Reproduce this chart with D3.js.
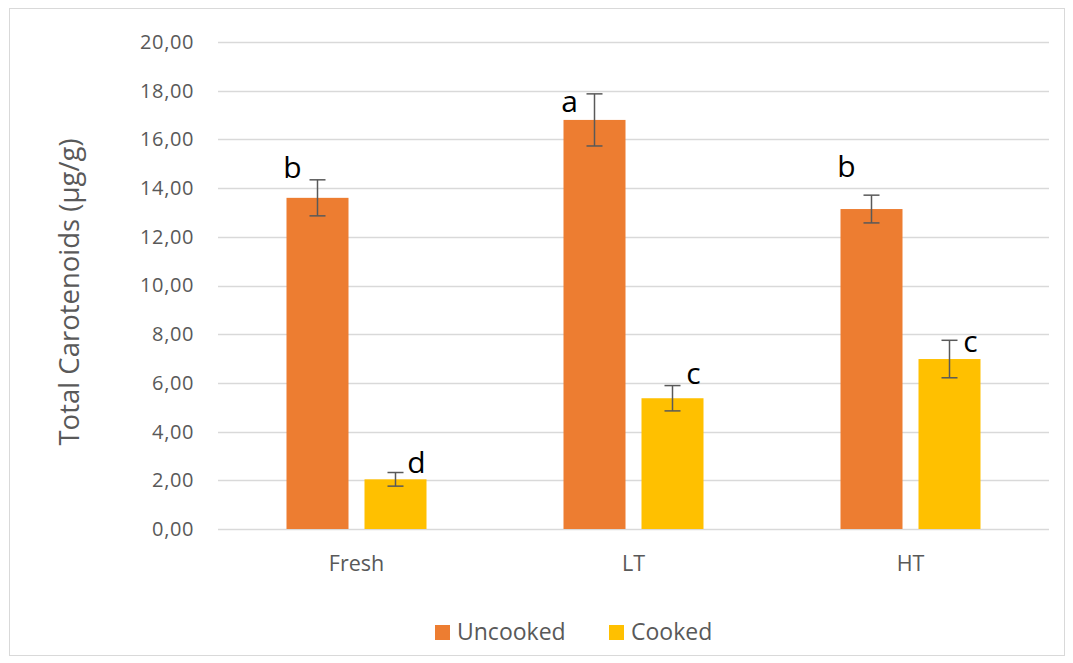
<!DOCTYPE html>
<html><head><meta charset="utf-8">
<script src="https://cdn.jsdelivr.net/npm/d3@7"></script>
<style>body{margin:0;background:#fff}svg{display:block}text{font-family:"Open Sans",sans-serif}</style>
</head><body>
<script>
const categories = ["Fresh", "LT", "HT"];
const seriesNames = ["Uncooked", "Cooked"];
const uncooked = [13.60, 16.80, 13.14];
const cooked = [2.04, 5.37, 6.98];
const uncookedErr = [0.74, 1.07, 0.57];
const cookedErr = [0.28, 0.52, 0.77];
const uncookedLetters = ["b", "a", "b"];
const cookedLetters = ["d", "c", "c"];
const uncookedLetterY = [14.42, 17.13, 14.46];
const cookedLetterY = [2.30, 5.96, 7.28];
const yTicks = [0, 2, 4, 6, 8, 10, 12, 14, 16, 18, 20];
const colors = ["#ED7D31", "#FFC000"];

const W = 1073, H = 663;
const svg = d3.select("body").append("svg").attr("width", W).attr("height", H);
svg.append("rect").attr("x", 9.5).attr("y", 8.5).attr("width", 1055).attr("height", 647)
  .attr("fill", "#fff").attr("stroke", "#D9D9D9");

const m = {left: 218, right: 1049, top: 42, bottom: 529};
const x = d3.scaleBand().domain(categories).range([m.left, m.right]).paddingInner(0).paddingOuter(0);
const y = d3.scaleLinear().domain([0, 20]).range([m.bottom, m.top]);
const barW = 62, gap = 16;

// grid
svg.append("g").selectAll("line").data(yTicks).join("line")
  .attr("x1", m.left).attr("x2", m.right)
  .attr("y1", d => Math.round(y(d)) + 0.5).attr("y2", d => Math.round(y(d)) + 0.5)
  .attr("stroke", "#D9D9D9").attr("stroke-width", 1.3);

// y axis labels
const yAxis = d3.axisLeft(y).tickValues(yTicks).tickSize(0).tickPadding(0)
  .tickFormat(d => d3.format(".2f")(d).replace(".", ","));
const ga = svg.append("g").attr("transform", `translate(194,0)`).call(yAxis);
ga.select(".domain").remove();
ga.selectAll("text").attr("font-size", 20).attr("fill", "#595959").attr("font-family", "Open Sans").attr("letter-spacing", 0.6);

// x axis labels
const gx = svg.append("g").attr("transform", `translate(0,${m.bottom})`)
  .call(d3.axisBottom(x).tickSize(0).tickPadding(27));
gx.select(".domain").remove();
gx.selectAll("text").attr("font-size", 21.5).attr("fill", "#595959").attr("font-family", "Open Sans");

const series = [
  {name: seriesNames[0], vals: uncooked, err: uncookedErr, letters: uncookedLetters, ly: uncookedLetterY, off: -(gap/2 + barW), lx: -25},
  {name: seriesNames[1], vals: cooked, err: cookedErr, letters: cookedLetters, ly: cookedLetterY, off: gap/2, lx: 21}
];

series.forEach((s, si) => {
  const g = svg.append("g");
  const cx = (c) => x(c) + x.bandwidth()/2 + s.off;
  g.selectAll("rect").data(categories).join("rect")
    .attr("x", c => cx(c)).attr("width", barW)
    .attr("y", (c, i) => y(s.vals[i])).attr("height", (c, i) => y(0) - y(s.vals[i]))
    .attr("fill", colors[si]);
  categories.forEach((c, i) => {
    const xc = cx(c) + barW/2;
    const y1 = y(s.vals[i] + s.err[i]), y2 = y(s.vals[i] - s.err[i]);
    const eg = svg.append("g").attr("stroke", "#595959").attr("stroke-width", 1.5);
    eg.append("line").attr("x1", xc).attr("x2", xc).attr("y1", y1).attr("y2", y2);
    eg.append("line").attr("x1", xc - 8).attr("x2", xc + 8).attr("y1", y1).attr("y2", y1);
    eg.append("line").attr("x1", xc - 8).attr("x2", xc + 8).attr("y1", y2).attr("y2", y2);
    svg.append("text").attr("x", xc + s.lx).attr("y", y(s.ly[i]))
      .attr("text-anchor", "middle").attr("font-size", 30).attr("fill", "#000")
      .attr("font-family", "Open Sans").text(s.letters[i]);
  });
});

// y title
svg.append("text").attr("transform", "translate(79,292) rotate(-90)")
  .attr("text-anchor", "middle").attr("font-size", 27.5).attr("fill", "#595959")
  .attr("font-family", "Open Sans").text("Total Carotenoids (µg/g)");

// legend
const legX = [435, 609];
seriesNames.forEach((n, i) => {
  svg.append("rect").attr("x", legX[i]).attr("y", 625).attr("width", 15).attr("height", 15).attr("fill", colors[i]);
  svg.append("text").attr("x", legX[i] + 22).attr("y", 640).attr("font-size", 23)
    .attr("fill", "#595959").attr("font-family", "Open Sans").text(n);
});
</script>
</body></html>
